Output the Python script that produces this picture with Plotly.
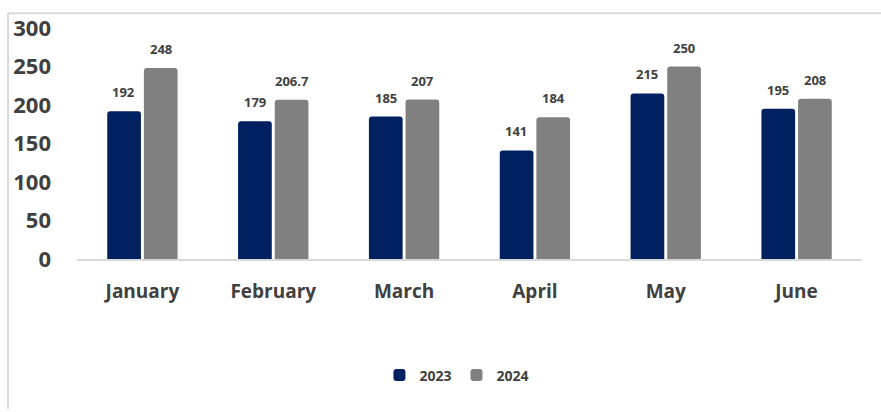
import plotly.graph_objects as go

months = ["January", "February", "March", "April", "May", "June"]
values_2023 = [192, 179, 185, 141, 215, 195]
values_2024 = [248, 206.7, 207, 184, 250, 208]
y_ticks = [0, 50, 100, 150, 200, 250, 300]

NAVY = "#002060"
GRAY = "#808080"
TXT = "#404040"
FONT = "Open Sans"

W, H = 881, 412
ML, MR, MT, MB = 77, 19, 23, 153
PW, PH = W - ML - MR, H - MT - MB

fig = go.Figure()
fig.add_trace(go.Bar(x=months, y=values_2023, name="2023",
                     marker=dict(color=NAVY, cornerradius=3, line=dict(width=0))))
fig.add_trace(go.Bar(x=months, y=values_2024, name="2024",
                     marker=dict(color=GRAY, cornerradius=3, line=dict(width=0))))

annotations = []
for series, shift in ((values_2023, -18.5), (values_2024, 18.5)):
    for m, v in zip(months, series):
        annotations.append(dict(
            x=m, y=v, xref="x", yref="y", text=f"{v:g}", showarrow=False,
            xshift=shift, yshift=8, yanchor="bottom",
            font=dict(family=FONT, size=13, color=TXT, weight="bold")))

def px_x(p):
    return (p - ML) / PW

def px_y(p):
    return (H - MB - p) / PH

shapes = [
    dict(type="line", xref="paper", yref="paper",
         x0=px_x(8), x1=px_x(881), y0=px_y(8), y1=px_y(8),
         line=dict(color="#d9d9d9", width=2)),
    dict(type="line", xref="paper", yref="paper",
         x0=px_x(8), x1=px_x(8), y0=px_y(8), y1=px_y(412),
         line=dict(color="#d9d9d9", width=2)),
]

fig.update_layout(
    width=W, height=H,
    margin=dict(l=ML, r=MR, t=MT, b=MB),
    paper_bgcolor="white", plot_bgcolor="white",
    barmode="group", bargap=0.44, bargroupgap=0.08,
    font=dict(family=FONT, color=TXT),
    showlegend=True,
    legend=dict(orientation="h", x=0.484, xanchor="center", y=px_y(378), yanchor="middle",
                font=dict(family=FONT, size=14, color=TXT, weight="bold"),
                itemwidth=30, traceorder="normal"),
    annotations=annotations,
    shapes=shapes,
    xaxis=dict(showline=True, linecolor="#d9d9d9", linewidth=2, ticks="",
               tickfont=dict(family=FONT, size=19, color=TXT, weight="bold"),
               ticklabelstandoff=14, showgrid=False, zeroline=False),
    yaxis=dict(range=[0, 300], tickvals=y_ticks, showgrid=False, zeroline=False,
               showline=False, ticks="",
               tickfont=dict(family=FONT, size=22, color=TXT, weight="bold"),
               ticklabelstandoff=25),
)

fig.write_html("out.html")
